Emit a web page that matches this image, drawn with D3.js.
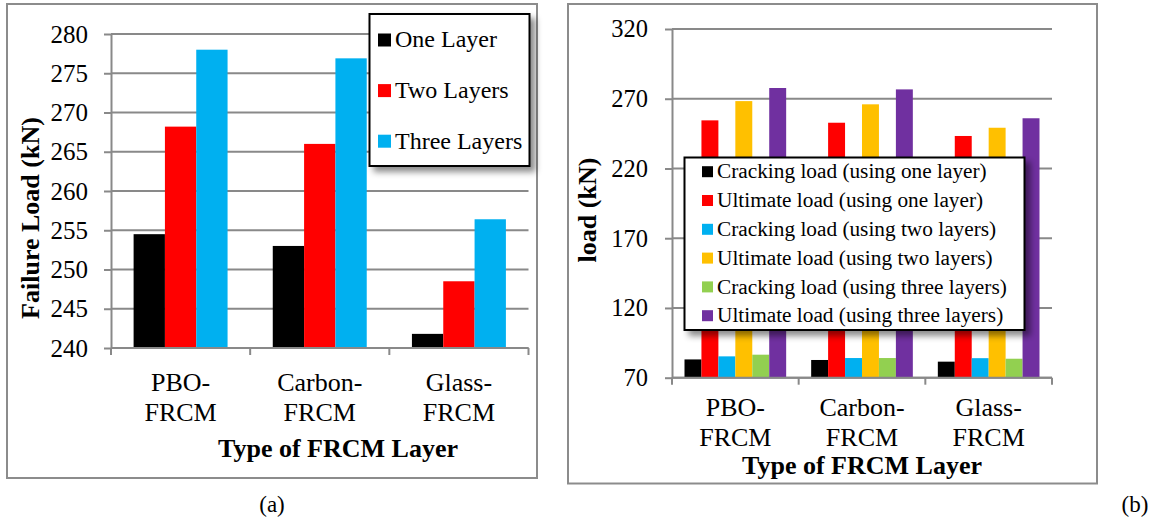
<!DOCTYPE html>
<html>
<head>
<meta charset="utf-8">
<script src="https://cdn.jsdelivr.net/npm/d3@7"></script>
<style>
  html, body { margin: 0; padding: 0; background: #ffffff; }
  svg { display: block; }
</style>
</head>
<body>
<svg id="fig" width="1154" height="517"></svg>
<script>
// ---- shared categories ----
const categories = ["PBO-FRCM", "Carbon-FRCM", "Glass-FRCM"];

// ---- panel (a): failure load by number of layers ----
const layerNames = ["One Layer", "Two Layers", "Three Layers"];
const oneLayer    = [254.5, 253.0, 241.8];
const twoLayers   = [268.2, 266.0, 248.5];
const threeLayers = [278.0, 276.9, 256.4];
const failureTicks = [240, 245, 250, 255, 260, 265, 270, 275, 280];

// ---- panel (b): cracking and ultimate loads ----
const loadNames = [
  "Cracking load (using one layer)",
  "Ultimate load (using one layer)",
  "Cracking load (using two layers)",
  "Ultimate load (using two layers)",
  "Cracking load (using three layers)",
  "Ultimate load (using three layers)"
];
const crackingOne   = [83.1, 82.7, 81.5];
const ultimateOne   = [254.5, 252.8, 243.3];
const crackingTwo   = [85.3, 84.1, 84.0];
const ultimateTwo   = [268.3, 266.0, 249.2];
const crackingThree = [86.5, 84.1, 83.6];
const ultimateThree = [277.7, 276.7, 256.0];
const loadTicks = [70, 120, 170, 220, 270, 320];

const FONT = "'Liberation Serif', 'Times New Roman', Times, serif";
const GRID = "#898989";

const svg = d3.select("#fig");

// soft shadow used behind the legend boxes
const defs = svg.append("defs");
const shadow = defs.append("filter").attr("id", "legendShadow")
  .attr("x", "-10%").attr("y", "-10%").attr("width", "130%").attr("height", "130%");
shadow.append("feDropShadow")
  .attr("dx", 5).attr("dy", 5).attr("stdDeviation", 3)
  .attr("flood-color", "#000").attr("flood-opacity", 0.45);

function drawPanel(o) {
  const g = svg.append("g");

  // outer chart frame
  g.append("rect")
    .attr("x", o.frame[0]).attr("y", o.frame[1])
    .attr("width", o.frame[2] - o.frame[0]).attr("height", o.frame[3] - o.frame[1])
    .attr("fill", "#fff").attr("stroke", "#8c8c8c").attr("stroke-width", 2);

  const x0 = d3.scaleBand().domain(categories).range([o.left, o.right]);
  const x1 = d3.scaleBand().domain(d3.range(o.series.length))
    .range([o.inset, x0.bandwidth() - o.inset]);
  const y = d3.scaleLinear().domain(o.domain).range([o.bottom, o.top]);

  // horizontal gridlines
  g.append("g").selectAll("line").data(o.ticks).join("line")
    .attr("x1", o.left).attr("x2", o.right)
    .attr("y1", d => y(d)).attr("y2", d => y(d))
    .attr("stroke", GRID).attr("stroke-width", 2);

  // clustered bars
  o.series.forEach((vals, i) => {
    g.append("g").selectAll("rect").data(vals).join("rect")
      .attr("x", (d, j) => x0(categories[j]) + x1(i))
      .attr("y", d => y(d))
      .attr("width", x1.bandwidth())
      .attr("height", d => y(o.domain[0]) - y(d))
      .attr("fill", o.colors[i]);
  });

  // value axis
  const ya = g.append("g").attr("transform", `translate(${o.left},0)`)
    .call(d3.axisLeft(y).tickValues(o.ticks).tickSizeInner(7).tickSizeOuter(0)
      .tickPadding(o.tickPad).tickFormat(d3.format("d")));
  ya.attr("font-family", FONT).attr("font-size", o.tickFont);
  ya.select(".domain").attr("stroke", GRID).attr("stroke-width", 2);
  ya.selectAll(".tick line").attr("stroke", GRID).attr("stroke-width", 2);
  ya.selectAll(".tick text").attr("fill", "#000");

  // category axis line and boundary ticks
  g.append("line")
    .attr("x1", o.left).attr("x2", o.right)
    .attr("y1", y(o.domain[0])).attr("y2", y(o.domain[0]))
    .attr("stroke", GRID).attr("stroke-width", 2);
  const bounds = categories.map(c => x0(c)).concat([o.right]);
  g.append("g").selectAll("line").data(bounds).join("line")
    .attr("x1", d => d).attr("x2", d => d)
    .attr("y1", y(o.domain[0])).attr("y2", y(o.domain[0]) + 7)
    .attr("stroke", GRID).attr("stroke-width", 2);

  // two-line category labels
  const cl = g.append("g").attr("font-family", FONT).attr("font-size", o.catFont)
    .attr("text-anchor", "middle").attr("fill", "#000");
  categories.forEach(c => {
    const parts = c.split("-");
    const cx = x0(c) + x0.bandwidth() / 2;
    const t = cl.append("text").attr("x", cx).attr("y", o.catY);
    t.append("tspan").attr("x", cx).text(parts[0] + "-");
    t.append("tspan").attr("x", cx).attr("dy", o.catGap).text(parts[1]);
  });

  // axis titles
  g.append("text")
    .attr("x", o.xTitle[0]).attr("y", o.xTitle[1])
    .attr("text-anchor", "middle").attr("font-family", FONT)
    .attr("font-size", o.titleFont).attr("font-weight", "bold")
    .text("Type of FRCM Layer");
  g.append("text")
    .attr("transform", `translate(${o.yTitle[0]},${o.yTitle[1]}) rotate(-90)`)
    .attr("text-anchor", "middle").attr("font-family", FONT)
    .attr("font-size", o.titleFont).attr("font-weight", "bold")
    .text(o.yLabel);

  // legend box
  const L = o.legend;
  const lg = g.append("g");
  lg.append("rect")
    .attr("x", L.box[0]).attr("y", L.box[1])
    .attr("width", L.box[2] - L.box[0]).attr("height", L.box[3] - L.box[1])
    .attr("fill", "#fff").attr("stroke", "#000").attr("stroke-width", 2)
    .attr("filter", "url(#legendShadow)");
  o.names.forEach((name, i) => {
    const cy = L.firstRow + i * L.rowStep;
    lg.append("rect")
      .attr("x", L.markX).attr("y", cy - L.mark / 2)
      .attr("width", L.mark).attr("height", L.mark)
      .attr("fill", o.colors[i]);
    lg.append("text")
      .attr("x", L.textX).attr("y", cy + L.font * 0.31)
      .attr("font-family", FONT).attr("font-size", L.font).attr("fill", "#000")
      .text(name);
  });

  // panel caption
  g.append("text")
    .attr("x", o.caption[0]).attr("y", o.caption[1])
    .attr("text-anchor", "middle").attr("font-family", FONT).attr("font-size", 23)
    .text(o.captionText);
}

drawPanel({
  frame: [7, 4, 537, 478],
  left: 111, right: 528.5, top: 34, bottom: 348,
  inset: 22.6,
  domain: [240, 280], ticks: failureTicks,
  series: [oneLayer, twoLayers, threeLayers],
  colors: ["#000000", "#ff0000", "#00b0f0"],
  names: layerNames,
  tickFont: 25, tickPad: 16,
  catFont: 26, catY: 391, catGap: 29.5,
  titleFont: 26, xTitle: [338, 457], yTitle: [39, 218], yLabel: "Failure Load (kN)",
  legend: { box: [369.5, 14, 529.5, 166], firstRow: 40, rowStep: 50.6,
            markX: 378, mark: 13, textX: 395, font: 24 },
  caption: [272, 512], captionText: "(a)"
});

drawPanel({
  frame: [568, 4, 1097, 483.5],
  left: 672, right: 1052, top: 29, bottom: 377.7,
  inset: 12.5,
  domain: [70, 320], ticks: loadTicks,
  series: [crackingOne, ultimateOne, crackingTwo, ultimateTwo, crackingThree, ultimateThree],
  colors: ["#000000", "#ff0000", "#00b0f0", "#ffc000", "#92d050", "#7030a0"],
  names: loadNames,
  tickFont: 24.5, tickPad: 17,
  catFont: 26, catY: 416, catGap: 30,
  titleFont: 26, xTitle: [862, 474], yTitle: [596, 210], yLabel: "load (kN)",
  legend: { box: [684.5, 157.5, 1024.5, 330], firstRow: 171.7, rowStep: 28.8,
            markX: 702, mark: 11, textX: 717, font: 21.3 },
  caption: [1135, 512], captionText: "(b)"
});
</script>
</body>
</html>
